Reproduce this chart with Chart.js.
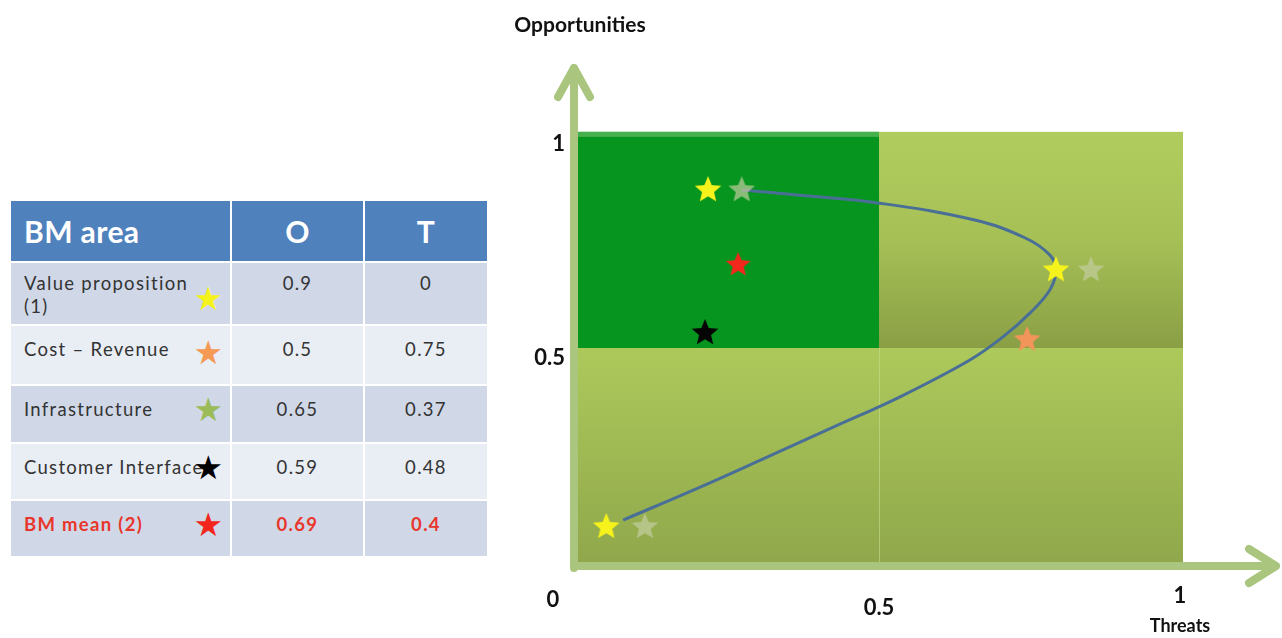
<!DOCTYPE html>
<html>
<head>
<meta charset="utf-8">
<script src="https://cdn.jsdelivr.net/npm/chart.js@4.4.1/dist/chart.umd.min.js"></script>
<style>
  html, body { margin: 0; padding: 0; background: #fff; }
  body { width: 1282px; height: 638px; position: relative; overflow: hidden; font-family: Lato, "Open Sans", sans-serif; }
  #tbl { position: absolute; left: 9px; top: 199px; border-collapse: collapse; }
  #tbl td { border: 2px solid #fff; padding: 0; vertical-align: top; font-size: 18.5px; letter-spacing: 1.3px; color: #333; position: relative; }
  #tbl tr.head td { background: #4f81bd; color: #fff; font-weight: bold; font-size: 30px; letter-spacing: 0.4px; height: 60px; vertical-align: middle; }
  #tbl tr.odd td { background: #d0d8e8; }
  #tbl tr.even td { background: #e9edf4; }
  #tbl td.lab { width: 206px; padding-left: 13px; }
  #tbl td.num { text-align: center; }
  #tbl td.c2 { width: 131px; }
  #tbl td.c3 { width: 122px; }
  #tbl .txt { padding-top: 12px; line-height: 23px; white-space: nowrap; }
  #tbl tr.first .txt { padding-top: 9px; }
  #tbl tr.first td.lab .txt { white-space: normal; width: 176px; }
  #tbl .star { position: absolute; right: 7px; font-family: "DejaVu Sans", sans-serif; font-size: 33px; line-height: 31px; letter-spacing: 0; }
  #tbl tr.mean td { color: #e8362c; font-weight: bold; }
  #chartBox { position: absolute; left: 500px; top: 0; width: 782px; height: 638px; }
</style>
</head>
<body>
<table id="tbl"></table>
<div id="chartBox"><canvas id="c"></canvas></div>
<script>
// table rows: BM area, O, T
const areas = ['Value proposition (1)', 'Cost \u2013 Revenue', 'Infrastructure', 'Customer Interface', 'BM mean (2)'];
const oValues = ['0.9', '0.5', '0.65', '0.59', '0.69'];
const tValues = ['0', '0.75', '0.37', '0.48', '0.4'];
const areaColors = ['#f6f21c', '#f59a55', '#9bbb59', '#000000', '#f2261c'];
const rowHeights = [63, 60, 58, 57, 57];
const starTops = [20, 11, 8, 8, 8];

// chart points (x = Threats, y = Opportunities)
const vpT = [0.216, 0.794, 0.047];
const vpO = [0.869, 0.682, 0.082];
const infraT = [0.272, 0.852, 0.111];
const infraO = [0.869, 0.682, 0.082];
const costT = [0.746];
const costO = [0.519];
const custT = [0.211];
const custO = [0.535];
const meanT = [0.266];
const meanO = [0.694];

// path drawn through the stars
const pathT = [0.075, 0.203, 0.314, 0.424, 0.535, 0.651, 0.706, 0.751, 0.784, 0.794, 0.784, 0.743, 0.659, 0.498, 0.369, 0.272];
const pathO = [0.098, 0.175, 0.245, 0.315, 0.386, 0.472, 0.526, 0.582, 0.636, 0.682, 0.717, 0.757, 0.799, 0.839, 0.857, 0.869];

const xTicks = [0, 0.5, 1];
const xTickLabels = ['0', '0.5', '1'];
const yTicks = [0.5, 1];
const yTickLabels = ['0.5', '1'];

// build table
const tbl = document.getElementById('tbl');
let html = '<tr class="head"><td class="lab">BM area</td><td class="num c2">O</td><td class="num c3">T</td></tr>';
areas.forEach((a, i) => {
    const cls = (i % 2 === 0 ? 'odd' : 'even') + (i === 0 ? ' first' : '') + (i === 4 ? ' mean' : '');
    html += '<tr class="' + cls + '" style="height:' + rowHeights[i] + 'px">' +
        '<td class="lab"><div class="txt">' + a + '</div>' +
        '<span class="star" style="top:' + starTops[i] + 'px;color:' + areaColors[i] + '">\u2605</span></td>' +
        '<td class="num c2"><div class="txt">' + oValues[i] + '</div></td>' +
        '<td class="num c3"><div class="txt">' + tValues[i] + '</div></td></tr>';
});
tbl.innerHTML = html;

const pts = (xs, ys) => xs.map((x, i) => ({ x: x, y: ys[i] }));

// filled five point star as point image
const makeStar = (color, r) => {
    const s = Math.ceil(r * 2 + 4);
    const c = document.createElement('canvas');
    c.width = s; c.height = s;
    const ctx = c.getContext('2d');
    ctx.beginPath();
    for (let i = 0; i < 10; i++) {
        const rad = i % 2 ? r * 0.45 : r;
        const a = -Math.PI / 2 + i * Math.PI / 5;
        ctx.lineTo(s / 2 + rad * Math.cos(a), s / 2 + rad * Math.sin(a));
    }
    ctx.closePath();
    ctx.fillStyle = color;
    ctx.fill();
    return c;
};

const quadrants = {
    id: 'quadrants',
    beforeDatasetsDraw(chart) {
        const ctx = chart.ctx;
        const xs = chart.scales.x, ys = chart.scales.y;
        const x0 = xs.getPixelForValue(0), xm = xs.getPixelForValue(0.5), x1 = xs.getPixelForValue(1.005);
        const y0 = ys.getPixelForValue(0), ym = ys.getPixelForValue(0.5), y1 = ys.getPixelForValue(1.005);
        ctx.save();
        // lower half
        let g = ctx.createLinearGradient(0, ym, 0, y0);
        g.addColorStop(0, '#adc95b');
        g.addColorStop(1, '#90a84b');
        ctx.fillStyle = g;
        ctx.fillRect(x0, ym, x1 - x0, y0 - ym);
        // upper right
        g = ctx.createLinearGradient(0, y1, 0, ym);
        g.addColorStop(0, '#b1cc5e');
        g.addColorStop(0.5, '#a6c056');
        g.addColorStop(1, '#8a9f45');
        ctx.fillStyle = g;
        ctx.fillRect(xm, y1, x1 - xm, ym - y1);
        // upper left
        ctx.fillStyle = '#06951f';
        ctx.fillRect(x0, y1, xm - x0, ym - y1);
        ctx.fillStyle = '#46b04f';
        ctx.fillRect(x0, y1, xm - x0, 5);
        // faint divider in lower half
        ctx.strokeStyle = 'rgba(200,220,140,0.6)';
        ctx.lineWidth = 1;
        ctx.beginPath();
        ctx.moveTo(xm + 0.5, ym);
        ctx.lineTo(xm + 0.5, y0);
        ctx.stroke();

        // axis arrows
        ctx.strokeStyle = '#a9c57e';
        ctx.lineWidth = 8;
        ctx.lineCap = 'round';
        ctx.lineJoin = 'round';
        const ax = x0 - 4, ay = y0 + 4;
        ctx.beginPath();
        ctx.moveTo(ax, ay + 2);
        ctx.lineTo(ax, 68);
        ctx.moveTo(ax - 16, 97);
        ctx.lineTo(ax, 68);
        ctx.lineTo(ax + 16, 97);
        ctx.stroke();
        ctx.beginPath();
        ctx.moveTo(ax, ay);
        ctx.lineTo(chart.width - 6, ay);
        ctx.moveTo(chart.width - 33, ay - 17);
        ctx.lineTo(chart.width - 6, ay);
        ctx.lineTo(chart.width - 33, ay + 17);
        ctx.stroke();
        ctx.restore();
    },
    afterDraw(chart) {
        const ctx = chart.ctx;
        const xs = chart.scales.x, ys = chart.scales.y;
        const x0 = xs.getPixelForValue(0), y0 = ys.getPixelForValue(0);
        ctx.save();
        ctx.fillStyle = '#111';
        ctx.textBaseline = 'middle';
        ctx.font = 'bold 22px Lato, "Open Sans", sans-serif';
        ctx.textAlign = 'right';
        yTicks.forEach((v, i) => {
            ctx.fillText(yTickLabels[i], x0 - 13, ys.getPixelForValue(v) + 10);
        });
        ctx.textAlign = 'center';
        const xOff = [-25, 0, 0];
        const yOff = [38, 46, 34];
        xTicks.forEach((v, i) => {
            ctx.fillText(xTickLabels[i], xs.getPixelForValue(v) + xOff[i], y0 + yOff[i]);
        });
        ctx.font = 'bold 18px Lato, "Open Sans", sans-serif';
        ctx.fillText('Threats', xs.getPixelForValue(1), y0 + 64);
        ctx.font = 'bold 21px Lato, "Open Sans", sans-serif';
        ctx.fillText('Opportunities', x0 + 2, 25);
        ctx.restore();
    }
};

const starDs = (label, data, color, r) => ({
    label: label,
    data: data,
    pointStyle: makeStar(color, r),
    showLine: false
});

new Chart(document.getElementById('c'), {
    type: 'scatter',
    data: {
        datasets: [
            starDs('Value proposition', pts(vpT, vpO), '#f6f21c', 14),
            starDs('Customer Interface', pts(custT, custO), '#050505', 14),
            starDs('BM mean', pts(meanT, meanO), '#f2281c', 13),
            starDs('Cost \u2013 Revenue', pts(costT, costO), '#f2955a', 14),
            starDs('Infrastructure', pts(infraT, infraO), 'rgba(195,205,160,0.7)', 14),
            {
                label: 'path',
                data: pts(pathT, pathO),
                showLine: true,
                borderColor: '#4a6f96',
                borderWidth: 3,
                tension: 0.4,
                pointRadius: 0,
                fill: false
            }
        ]
    },
    options: {
        responsive: true,
        maintainAspectRatio: false,
        animation: false,
        layout: { padding: { left: 78, right: 102, top: 134, bottom: 76 } },
        plugins: { legend: { display: false }, tooltip: { enabled: false } },
        scales: {
            x: { type: 'linear', min: 0, max: 1, display: false },
            y: { type: 'linear', min: 0, max: 1, display: false }
        }
    },
    plugins: [quadrants]
});
</script>
</body>
</html>
